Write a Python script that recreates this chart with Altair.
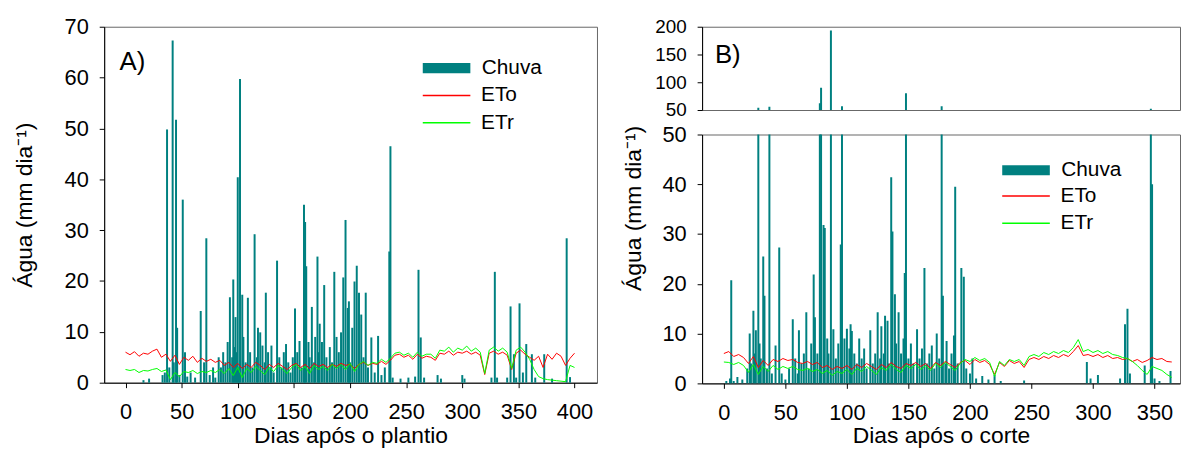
import altair as alt
import pandas as pd

FONT = "Liberation Sans"
TEAL = "#008080"
RED = "#ff0000"
GREEN = "#00ff00"

# ---------------- Panel A (Dias após o plantio) ----------------
a_days = list(range(0, 401, 4))
a_eto = [6.0, 5.5, 6.1, 5.2, 5.8, 5.6, 6.2, 6.6, 5.0, 5.6,
         4.2, 5.4, 3.6, 5.0, 4.4, 5.2, 4.0, 4.8, 4.2, 4.6,
         4.0, 4.4, 3.4, 4.0, 3.0, 3.8, 2.8, 3.6, 3.0, 4.0,
         3.4, 2.6, 3.6, 3.0, 3.8, 3.2, 2.6, 3.4, 3.8, 3.0,
         3.6, 2.8, 3.8, 3.2, 3.6, 3.0, 3.6, 3.2, 3.8, 3.4,
         3.6, 2.8, 3.6, 4.0, 3.4, 3.8, 3.6, 4.2, 3.6, 4.4,
         5.4, 5.6, 5.0, 5.4, 4.6, 5.6, 4.8, 5.2, 5.0, 4.4,
         5.8, 5.6, 6.2, 5.4, 6.0, 5.8, 6.2, 5.6, 6.0, 5.4,
         1.6, 5.8, 6.2, 5.6, 6.0, 5.4, 2.6, 5.8, 6.4, 5.6,
         5.0, 4.4, 5.2, 3.0, 5.6, 4.6, 5.8, 5.2, 3.4, 4.8,
         5.8]
a_etr = [2.6, 2.4, 2.6, 2.0, 2.4, 2.3, 2.6, 2.8, 2.2, 2.5,
         0.6, 2.0, 1.2, 2.2, 2.0, 2.4, 1.8, 2.2, 2.0, 2.4,
         2.0, 2.6, 1.8, 2.8, 1.4, 3.0, 1.0, 2.8, 2.0, 3.2,
         2.4, 1.6, 3.0, 2.2, 3.4, 2.6, 1.8, 3.0, 3.6, 2.4,
         3.2, 1.8, 3.4, 2.6, 3.2, 2.4, 3.6, 2.8, 3.6, 2.6,
         3.8, 2.2, 3.6, 4.2, 3.4, 4.0, 3.8, 4.6, 4.0, 4.8,
         5.8, 6.0, 5.4, 5.8, 5.0, 6.0, 5.2, 5.6, 5.6, 4.8,
         6.4, 6.2, 7.0, 6.0, 6.8, 6.4, 7.2, 6.2, 6.8, 6.0,
         1.8, 6.4, 7.0, 6.2, 6.8, 6.0, 2.8, 6.4, 7.0, 6.0,
         4.6, 2.6, 1.2, 0.8, 0.6, 0.5, 0.4, 0.3, 0.2, 3.4,
         3.0]
a_rain_day = [16, 21, 33, 35, 37, 39, 42, 43, 45, 46, 48, 51, 53, 55, 58, 62, 67, 70, 72, 75,
              78, 80, 83, 85, 87, 89, 91, 93, 95, 96, 97, 98, 99, 100, 101, 102, 104, 105, 107, 109,
              111, 113, 115, 117, 118, 120, 122, 124, 125, 127, 129, 130, 132, 135, 137, 139, 141, 143, 145, 147,
              149, 151, 153, 155, 157, 159, 160, 161, 163, 164, 166, 168, 169, 171, 172, 173, 175, 177, 179, 180,
              182, 184, 186, 188, 190, 192, 194, 196, 198, 199, 200, 202, 204, 206, 208, 210, 212, 214, 216, 219,
              222, 225, 228, 231, 235, 236, 238, 245, 252, 258, 261, 263, 266, 278, 281, 300, 302, 326, 329, 331,
              340, 343, 346, 348, 351, 354, 357, 362, 365, 373, 380, 393, 396]
a_rain_mm = [0.5, 0.8, 1.5, 2.0, 49.8, 3.0, 67.3, 4.0, 51.7, 10.8, 1.5, 36.0, 6.0, 1.2, 2.0, 1.0, 14.1, 4.0, 28.4, 1.5,
             3.0, 1.0, 5.0, 3.0, 6.0, 4.0, 8.0, 16.8, 5.0, 20.3, 7.0, 12.9, 6.0, 40.4, 3.0, 59.7, 17.3, 9.0, 4.0, 16.7,
             6.0, 3.0, 29.2, 5.0, 10.8, 9.9, 7.3, 4.0, 17.7, 6.0, 3.0, 7.3, 2.0, 24.0, 5.0, 3.0, 6.0, 7.6, 4.0, 2.0,
             5.0, 14.6, 6.0, 8.2, 3.0, 35.0, 31.6, 22.9, 8.0, 5.0, 14.9, 4.0, 9.0, 24.8, 6.0, 11.6, 8.0, 19.2, 5.0, 3.0,
             7.0, 4.0, 21.8, 9.0, 6.0, 9.9, 20.7, 32.0, 14.7, 16.0, 4.0, 10.8, 19.9, 23.0, 17.7, 13.4, 5.0, 17.7, 3.0, 8.9,
             2.0, 9.2, 1.5, 3.0, 25.8, 46.5, 1.0, 0.8, 1.0, 1.2, 22.2, 8.9, 1.0, 1.5, 0.8, 1.5, 0.8, 1.0, 21.8, 1.0,
             1.0, 15.0, 5.6, 1.0, 15.6, 2.0, 7.6, 5.6, 1.0, 5.6, 0.8, 28.4, 1.1]

# ---------------- Panel B (Dias após o corte) ----------------
b_days = list(range(0, 365, 4))
b_eto = [6.0, 6.4, 5.4, 5.8, 5.2, 4.0, 5.4, 3.2, 4.6, 3.6,
         4.8, 4.4, 5.0, 4.6, 4.8, 4.2, 4.0, 4.4, 3.8, 4.2,
         3.2, 3.6, 2.8, 3.4, 3.0, 3.6, 2.8, 3.8, 3.2, 4.0,
         3.4, 2.8, 3.8, 3.2, 4.2, 3.4, 3.0, 4.0, 3.6, 4.2,
         3.4, 4.0, 3.0, 4.2, 3.6, 4.4, 3.8, 3.2, 4.2, 4.6,
         3.8, 4.8, 4.2, 4.6, 3.8, 1.8, 4.2, 3.4, 4.6, 4.0,
         4.4, 3.2, 4.8, 5.2, 4.8, 5.4, 5.0, 5.6, 5.2, 5.8,
         5.4, 6.4, 7.6, 5.6, 5.8, 5.4, 5.8, 5.2, 5.6, 5.0,
         5.2, 4.8, 5.0, 4.4, 4.8, 4.2, 4.6, 5.2, 4.8, 5.0,
         4.4, 4.3]
b_etr = [4.3, 4.2, 3.8, 4.2, 3.6, 2.2, 3.8, 1.8, 3.4, 2.4,
         3.6, 2.8, 3.4, 3.0, 3.4, 2.8, 2.6, 3.0, 2.4, 2.8,
         2.0, 2.6, 1.6, 2.4, 2.0, 2.8, 1.8, 3.0, 2.4, 3.4,
         2.6, 1.8, 3.2, 2.6, 3.8, 2.8, 2.2, 3.6, 3.0, 3.8,
         2.8, 3.6, 2.6, 4.0, 3.2, 4.2, 3.4, 2.6, 4.0, 4.8,
         4.4, 5.2, 4.6, 5.0, 4.2, 1.4, 4.4, 3.6, 4.8, 4.4,
         4.8, 3.6, 5.4, 5.8, 5.4, 6.2, 5.8, 6.4, 6.0, 6.6,
         6.2, 7.2, 8.8, 6.4, 6.8, 6.2, 6.6, 6.0, 6.4, 5.8,
         5.6, 5.2, 5.0, 4.4, 3.6, 2.6, 1.8, 3.4, 3.0, 2.6,
         1.8, 1.2]
b_rain_day = [2, 5, 6, 8, 11, 15, 19, 21, 22, 24, 25, 26, 28, 29, 30, 32, 33, 35, 37, 39,
              42, 45, 47, 50, 53, 56, 58, 60, 61, 63, 65, 67, 69, 71, 73, 74, 76, 78, 79, 81,
              82, 84, 85, 87, 89, 91, 93, 95, 96, 98, 100, 102, 103, 104, 106, 108, 110, 112, 114, 116,
              119, 121, 123, 125, 127, 128, 130, 131, 133, 134, 136, 137, 139, 140, 142, 144, 146, 147, 148, 150,
              152, 154, 157, 159, 161, 163, 165, 167, 169, 171, 173, 175, 177, 178, 180, 181, 183, 185, 187, 188,
              190, 193, 195, 197, 200, 202, 205, 210, 215, 220, 225, 244, 295, 298, 304, 322, 326, 328, 330, 342,
              347, 348, 350, 354, 363]
b_rain_mm = [0.5, 1.0, 20.7, 0.5, 1.3, 0.8, 3.0, 10.0, 4.0, 14.6, 6.0, 10.7, 54.0, 8.0, 5.0, 25.5, 17.6, 3.0, 56.0, 2.0,
             7.6, 27.3, 2.0, 0.8, 3.0, 12.9, 5.0, 2.0, 10.7, 4.0, 6.0, 14.3, 3.0, 8.0, 21.9, 13.3, 6.0, 62.0, 90.0, 31.8,
             31.2, 9.0, 6.0, 193.0, 10.9, 5.0, 8.0, 27.9, 57.0, 9.0, 11.0, 7.0, 11.9, 10.5, 6.0, 4.0, 9.0, 5.0, 7.0, 3.0,
             10.7, 4.0, 6.0, 14.3, 5.0, 11.5, 6.0, 13.6, 12.6, 4.0, 41.4, 30.5, 17.9, 8.0, 14.3, 6.0, 9.0, 22.2, 80.0, 5.0,
             8.0, 4.0, 10.9, 5.0, 7.0, 23.2, 4.0, 6.0, 7.6, 3.0, 10.0, 5.0, 57.0, 17.6, 4.0, 8.5, 3.0, 6.0, 9.6, 39.5,
             4.0, 23.2, 21.4, 3.0, 2.0, 5.0, 1.0, 1.5, 0.8, 1.7, 0.5, 0.6, 4.3, 1.0, 1.7, 1.0, 11.9, 15.0, 2.0, 3.6,
             52.4, 40.0, 1.0, 0.5, 2.5]

x_ticks_a = [0, 50, 100, 150, 200, 250, 300, 350, 400]
x_ticks_b = [0, 50, 100, 150, 200, 250, 300, 350]
y_ticks_a = [0, 10, 20, 30, 40, 50, 60, 70]
y_ticks_b_low = [0, 10, 20, 30, 40, 50]
y_ticks_b_up = [50, 100, 150, 200]
series_names = ["ETo", "ETr"]
rain_name = "Chuva"
y_title = "Água (mm dia⁻¹)"


def lines_df(days, eto, etr):
    return pd.DataFrame({
        "day": days + days,
        "mm": eto + etr,
        "series": [series_names[0]] * len(days) + [series_names[1]] * len(days),
    })


def rain_df(days, mm):
    return pd.DataFrame({"day": days, "mm": mm, "s": [rain_name] * len(days)})


RAIN_SYMBOL = "M-4,-0.85H4V0.85H-4Z"
LINE_SYMBOL = "M-4,0H4"


def fill_legend(x, y):
    return alt.Legend(title=None, orient="none", legendX=x, legendY=y,
                      symbolType=RAIN_SYMBOL, symbolSize=144, symbolStrokeWidth=0,
                      symbolOpacity=1, labelOffset=25, labelFont=FONT,
                      labelFontSize=21, labelColor="black", padding=0)


def stroke_legend(x, y):
    return alt.Legend(title=None, orient="none", legendX=x, legendY=y,
                      symbolType=LINE_SYMBOL, symbolSize=144, symbolStrokeWidth=1.5,
                      labelOffset=24.3, rowPadding=5.5, labelFont=FONT,
                      labelFontSize=21, labelColor="black", padding=0)


fill_scale = alt.Scale(domain=[rain_name], range=[TEAL])
stroke_scale = alt.Scale(domain=series_names, range=[RED, GREEN])

# ---------------- Chart A ----------------
rainA = rain_df(a_rain_day, a_rain_mm)
linA = lines_df(a_days, a_eto, a_etr)

xA = alt.X("day:Q", scale=alt.Scale(domain=[-19, 420], nice=False, zero=False, padding=0),
           axis=alt.Axis(values=x_ticks_a, title="Dias após o plantio"))
yA = alt.Y("mm:Q", scale=alt.Scale(domain=[0, 70], nice=False),
           axis=alt.Axis(values=y_ticks_a, title=y_title, titleX=-68))

barsA = alt.Chart(rainA).mark_bar(width=2, orient="vertical").encode(
    x=xA, y=yA, fill=alt.Fill("s:N", scale=fill_scale, legend=fill_legend(334.8, 31.2)))
linesA = alt.Chart(linA).mark_line(strokeWidth=1).encode(
    x=xA, y=yA, stroke=alt.Stroke("series:N", scale=stroke_scale, legend=stroke_legend(334.8, 58.9)))
textA = alt.Chart(pd.DataFrame({"day": [-5.3], "mm": [61.5], "t": ["A)"]})).mark_text(
    align="left", baseline="alphabetic", fontSize=26, font=FONT, color="black").encode(
    x=xA, y=yA, text="t:N")

chartA = alt.layer(barsA, linesA, textA).properties(width=497, height=359)

# ---------------- Chart B ----------------
rainB = rain_df(b_rain_day, b_rain_mm)
rainB_up = rainB[rainB["mm"] > 50]
linB = lines_df(b_days, b_eto, b_etr)

bdom = [-17.7, 370.7]
xBu = alt.X("day:Q", scale=alt.Scale(domain=bdom, nice=False, zero=False, padding=0), axis=None)
yBu = alt.Y("mm:Q", scale=alt.Scale(domain=[50, 200], nice=False, zero=False),
            axis=alt.Axis(values=y_ticks_b_up, title=None, labelFontSize=19))
barsBu = alt.Chart(rainB_up).mark_bar(width=2, orient="vertical", clip=True).encode(
    x=xBu, y=yBu, fill=alt.Fill("s:N", scale=fill_scale, legend=None))
textB = alt.Chart(pd.DataFrame({"day": [-7.3], "mm": [134.5], "t": ["B)"]})).mark_text(
    align="left", baseline="alphabetic", fontSize=26, font=FONT, color="black").encode(
    x=xBu, y=yBu, text="t:N")
upper = alt.layer(barsBu, textB).properties(width=482, height=84)

xBl = alt.X("day:Q", scale=alt.Scale(domain=bdom, nice=False, zero=False, padding=0),
            axis=alt.Axis(values=x_ticks_b, title="Dias após o corte"))
yBl = alt.Y("mm:Q", scale=alt.Scale(domain=[0, 50], nice=False),
            axis=alt.Axis(values=y_ticks_b_low, title=y_title, titleX=-57, titleY=74))
barsBl = alt.Chart(rainB).mark_bar(width=2, orient="vertical", clip=True).encode(
    x=xBl, y=yBl, fill=alt.Fill("s:N", scale=fill_scale, legend=fill_legend(316.2, 25.5)))
linesBl = alt.Chart(linB).mark_line(strokeWidth=1).encode(
    x=xBl, y=yBl, stroke=alt.Stroke("series:N", scale=stroke_scale, legend=stroke_legend(316.2, 51.5)))
lower = alt.layer(barsBl, linesBl).properties(width=482, height=251)

chartB = alt.vconcat(upper, lower, spacing=24.7, bounds="flush").resolve_scale(
    x="independent", y="independent", fill="independent", stroke="independent"
).resolve_legend(fill="independent", stroke="independent")

chart = alt.hconcat(chartA, chartB, spacing=106, bounds="flush").resolve_scale(
    fill="independent", stroke="independent"
).resolve_legend(fill="independent", stroke="independent").properties(
    padding={"left": 5, "top": 5, "right": 0, "bottom": 0}
).configure_axis(
    labelFont=FONT, titleFont=FONT, labelFontSize=22, titleFontSize=23,
    titleFontWeight="normal", labelColor="black", titleColor="black",
    domainColor="black", tickColor="black", tickSize=5, labelPadding=11,
    grid=False, domainWidth=1, tickWidth=1
).configure_axisX(labelPadding=14, titlePadding=2).configure_view(
    stroke="#666666", strokeWidth=1
)

chart.save("out.html", embed_options={"renderer": "svg", "actions": False})
